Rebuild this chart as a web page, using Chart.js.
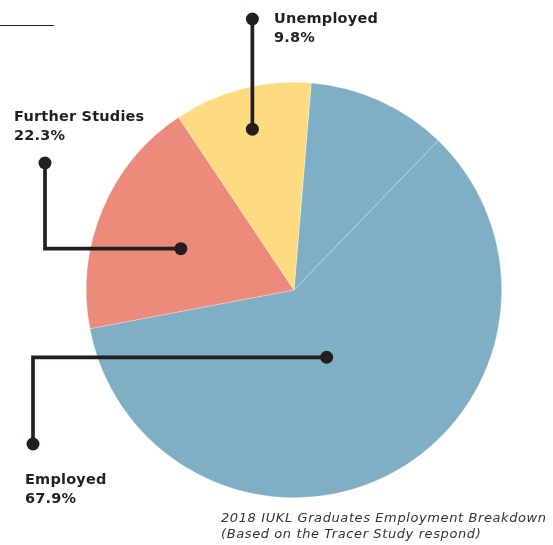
<!DOCTYPE html>
<html>
<head>
<meta charset="utf-8">
<script src="https://cdn.jsdelivr.net/npm/chart.js@4"></script>
<style>
  html, body { margin: 0; padding: 0; background: #fff; }
  #wrap { position: relative; width: 553px; height: 545px; }
  canvas { position: absolute; left: 0; top: 0; }
  .label {
    position: absolute;
    font-family: "DejaVu Sans", sans-serif;
    font-weight: bold;
    font-size: 14.5px;
    line-height: 19px;
    letter-spacing: 0.2px;
    color: #231f20;
    white-space: nowrap;
  }
  .caption {
    position: absolute;
    left: 221px;
    top: 510px;
    font-family: "DejaVu Sans", sans-serif;
    font-style: italic;
    font-size: 13px;
    line-height: 16px;
    letter-spacing: 0.6px;
    color: #333;
    white-space: nowrap;
  }
  .rule { position: absolute; left: 0; top: 25px; width: 54px; height: 1.3px; background: #231f20; }
</style>
</head>
<body>
<div id="wrap">
  <canvas id="pieChart" width="553" height="545"></canvas>
  <div class="rule"></div>
  <div class="label" style="left:274px; top:9px;">Unemployed<br>9.8%</div>
  <div class="label" style="left:14px; top:107px;">Further Studies<br>22.3%</div>
  <div class="label" style="left:25px; top:470px;">Employed<br>67.9%</div>
  <div class="caption">2018 IUKL Graduates Employment Breakdown<br>(Based on the Tracer Study respond)</div>
</div>
<script>
// slices as drawn (share of the circle, %); the blue part is drawn as two pieces
const sliceLabels = ["Employed", "Employed", "Further Studies", "Unemployed"];
const sliceValues = [10.9, 59.8, 18.6, 10.7];
const sliceColors = ["#7eafc5", "#7eafc5", "#ec8a7b", "#fedb80"];
const startRotation = 4.75;

// callouts: which slice, how deep the dot sits, a small turn off the slice middle, where the elbow goes
const callouts = [
    { slice: 3, depth: 0.80, turn: 0, bend: "up", toY: 19 },
    { slice: 2, depth: 0.58, turn: -2.7, bend: "left-up", toX: 45, toY: 163 },
    { slice: 1, depth: 0.36, turn: 2.5, bend: "left-down", toX: 33, toY: 444 },
];

const calloutPlugin = {
    id: "callouts",
    afterDatasetsDraw(chart) {
        const ctx = chart.ctx;
        const arcs = chart.getDatasetMeta(0).data;
        ctx.save();
        ctx.strokeStyle = "#231f20";
        ctx.fillStyle = "#231f20";
        ctx.lineWidth = 3.7;
        callouts.forEach((c) => {
            const arc = arcs[c.slice];
            const mid = (arc.startAngle + arc.endAngle) / 2 + (c.turn * Math.PI) / 180;
            const r = arc.outerRadius * c.depth;
            const ax = arc.x + Math.cos(mid) * r;
            const ay = arc.y + Math.sin(mid) * r;
            let ex, ey;
            ctx.beginPath();
            ctx.moveTo(ax, ay);
            if (c.bend === "up") {
                ex = ax;
                ey = c.toY;
                ctx.lineTo(ex, ey);
            } else {
                ex = c.toX;
                ey = c.toY;
                ctx.lineTo(ex, ay);
                ctx.lineTo(ex, ey);
            }
            ctx.stroke();
            [[ax, ay], [ex, ey]].forEach(([x, y]) => {
                ctx.beginPath();
                ctx.arc(x, y, 6.5, 0, Math.PI * 2);
                ctx.fill();
            });
        });
        ctx.restore();
    },
};

const canvas = document.getElementById("pieChart");
new Chart(canvas.getContext("2d"), {
    type: "pie",
    data: {
        labels: sliceLabels,
        datasets: [
            {
                data: sliceValues,
                backgroundColor: sliceColors,
                borderColor: "rgba(255,255,255,0.45)",
                borderWidth: 0.6,
            },
        ],
    },
    options: {
        responsive: false,
        animation: false,
        events: [],
        rotation: startRotation,
        layout: { padding: { left: 86, right: 51, top: 82, bottom: 47 } },
        plugins: {
            legend: { display: false },
            tooltip: { enabled: false },
        },
    },
    plugins: [calloutPlugin],
});
</script>
</body>
</html>
